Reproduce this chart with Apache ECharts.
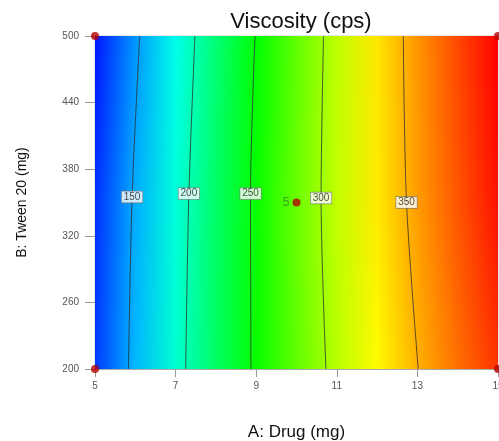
<!DOCTYPE html>
<html>
<head>
<meta charset="utf-8">
<script src="https://cdn.jsdelivr.net/npm/echarts@6/dist/echarts.min.js"></script>
<style>
html,body{margin:0;padding:0;background:#fff;}
#chart{width:499px;height:441px;}
</style>
</head>
<body>
<div id="chart"></div>
<script>
// ---- data ----
const xTicks = [5, 7, 9, 11, 13, 15];
const yTicks = [200, 260, 320, 380, 440, 500];

// response surface sampled at these drug (x) and Tween 20 (y) levels
const gridX = [5, 6, 7, 8, 9, 10, 11, 12, 13, 14, 15];
const gridY = [200, 350, 500];
const visc200 = [119, 156, 191, 223, 254, 280, 306, 328, 350, 369, 387];
const visc350 = [116, 153, 188, 222, 254, 283, 309, 333, 356, 377, 397];
const visc500 = [108, 146, 183, 218, 251, 280, 308, 334, 358, 381, 403];

// contour lines
const levels = [150, 200, 250, 300, 350];
const contourX200 = [5.83, 7.25, 8.87, 10.73, 13.02];
const contourXMid = [5.92, 7.33, 8.86, 10.61, 12.73];
const contourYMid = [355, 358, 358, 354, 350];
const contourX500 = [6.11, 7.48, 8.97, 10.67, 12.65];

// design points
const designX = [5, 5, 15, 15, 10];
const designY = [200, 500, 200, 500, 350];
const centerRuns = 5;

const vMin = 102, vMax = 402;
const palette = ['#0000ff', '#00ffff', '#00ff00', '#ffff00', '#ff0000'];

function colorOf(v) {
  let r = (v - vMin) / (vMax - vMin);
  r = Math.max(0, Math.min(1, r));
  return echarts.color.lerp(r, palette);
}

const rowsV = [visc200, visc350, visc500];
const cells = [];
for (let j = 0; j < gridY.length - 1; j++) {
  for (let i = 0; i < gridX.length - 1; i++) cells.push([i, j]);
}

const font = "'Liberation Sans', Arial, sans-serif";
const chart = echarts.init(document.getElementById('chart'), null, {renderer: 'canvas'});

const series = [];
series.push({
  type: 'custom',
  z: 1,
  silent: true,
  clip: true,
  data: cells,
  renderItem: function (params, api) {
    const i = api.value(0), j = api.value(1);
    const x0 = gridX[i], x1 = gridX[i + 1], y0 = gridY[j], y1 = gridY[j + 1];
    const v00 = rowsV[j][i], v10 = rowsV[j][i + 1], v01 = rowsV[j + 1][i], v11 = rowsV[j + 1][i + 1];
    const N = 16;
    const children = [];
    for (let k = 0; k < N; k++) {
      const t = (k + 0.5) / N;
      const ya = y0 + (y1 - y0) * k / N;
      const yb = y0 + (y1 - y0) * (k + 1) / N;
      const vl = v00 + (v01 - v00) * t;
      const vr = v10 + (v11 - v10) * t;
      const p0 = api.coord([x0, yb]);
      const p1 = api.coord([x1, ya]);
      children.push({
        type: 'rect',
        shape: {x: p0[0], y: p0[1], width: p1[0] - p0[0] + 1, height: p1[1] - p0[1] + 1},
        style: {
          fill: new echarts.graphic.LinearGradient(p0[0], 0, p1[0], 0, [
            {offset: 0, color: colorOf(vl)},
            {offset: 1, color: colorOf(vr)}
          ], true)
        }
      });
    }
    return {type: 'group', children: children};
  }
});

levels.forEach(function (lv, idx) {
  series.push({
    type: 'line',
    z: 3,
    silent: true,
    showSymbol: false,
    symbol: 'none',
    smooth: 0.3,
    lineStyle: {color: '#2a2a2a', width: 0.9, opacity: 0.85},
    data: [[contourX200[idx], 200], [contourXMid[idx], contourYMid[idx]], [contourX500[idx], 500]]
  });
});

series.push({
  type: 'scatter',
  z: 5,
  silent: true,
  symbolSize: 0,
  data: levels.map(function (lv, idx) { return [contourXMid[idx], contourYMid[idx], lv]; }),
  label: {
    show: true,
    position: 'inside',
    formatter: function (p) { return String(p.value[2]); },
    fontFamily: font,
    fontSize: 10,
    color: '#222',
    backgroundColor: '#ffffff',
    borderColor: '#777',
    borderWidth: 0.7,
    padding: [1, 2, 0, 2]
  }
});

series.push({
  type: 'scatter',
  z: 6,
  silent: true,
  symbolSize: 8,
  itemStyle: {color: '#b30000'},
  data: designX.map(function (x, k) {
    const item = {value: [x, designY[k]]};
    if (k === designX.length - 1) {
      item.label = {
        show: true, position: 'left', distance: 3,
        formatter: String(centerRuns),
        fontFamily: font, fontSize: 12, color: '#2f8a2f'
      };
    }
    return item;
  })
});

chart.setOption({
  animation: false,
  backgroundColor: '#ffffff',
  title: {
    text: 'Viscosity (cps)',
    left: 296,
    textAlign: 'center',
    top: 6,
    textStyle: {fontFamily: font, fontSize: 22, fontWeight: 'normal', color: '#111'}
  },
  grid: {left: 95, right: 1, top: 36, bottom: 72, show: true, borderColor: '#cccccc', borderWidth: 1,
         containLabel: false, outerBoundsMode: 'none'},
  xAxis: {
    type: 'value',
    min: 5, max: 15, interval: 2,
    name: 'A: Drug (mg)',
    nameLocation: 'middle',
    nameGap: 55,
    nameTextStyle: {fontFamily: font, fontSize: 17, color: '#111'},
    axisLine: {show: true, lineStyle: {color: '#aaaaaa'}},
    axisTick: {show: true, length: 8, lineStyle: {color: '#999'}},
    axisLabel: {
      fontFamily: font, fontSize: 10, color: '#555', margin: 12,
      formatter: function (v) { return xTicks.indexOf(v) >= 0 ? String(v) : ''; }
    },
    splitLine: {show: false}
  },
  yAxis: {
    type: 'value',
    min: 200, max: 500, interval: 60,
    name: 'B: Tween 20 (mg)',
    nameLocation: 'middle',
    nameGap: 66,
    nameTextStyle: {fontFamily: font, fontSize: 14, color: '#111'},
    axisLine: {show: true, lineStyle: {color: '#aaaaaa'}},
    axisTick: {show: true, length: 10, lineStyle: {color: '#999'}},
    axisLabel: {
      fontFamily: font, fontSize: 10, color: '#555', margin: 16,
      formatter: function (v) { return yTicks.indexOf(v) >= 0 ? String(v) : ''; }
    },
    splitLine: {show: false}
  },
  series: series
});
</script>
</body>
</html>
